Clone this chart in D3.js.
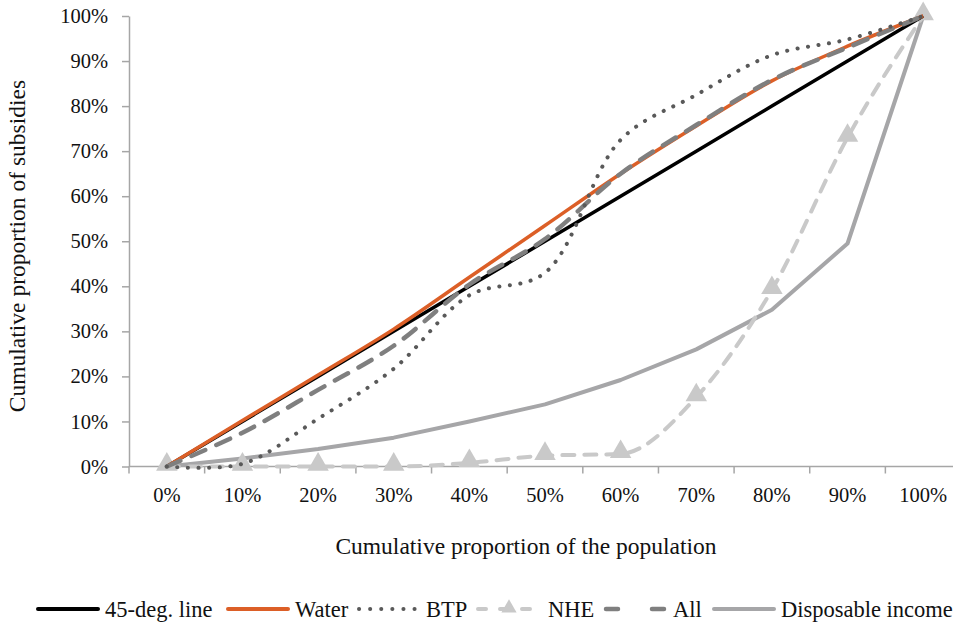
<!DOCTYPE html>
<meta charset="utf-8">
<style>
body { margin: 0; background: #fff; }
svg { font-family: "Liberation Serif", "DejaVu Serif", serif; }
.axis path, .axis line { stroke: #a6a6a6; stroke-width: 1.5px; }
.axis text { font-size: 20.5px; fill: #111; }
.title { font-size: 23.5px; fill: #111; }
.legend text { font-size: 22.5px; fill: #111; }
</style>
<svg width="953" height="628"></svg>
<script src="https://d3js.org/d3.v7.min.js"></script>
<script>

// categories on the x axis
var categories = ["0%", "10%", "20%", "30%", "40%", "50%", "60%", "70%", "80%", "90%", "100%"];

// series values, cumulative proportion of subsidies (%)
var line45 = [0, 10, 20, 30, 40, 50, 60, 70, 80, 90, 100];
var water = [0, 10.2, 20.3, 30.5, 42, 53.5, 65, 75.6, 85.6, 93.3, 100];
var btp = [0, 0.6, 10.6, 21.7, 38, 43, 72.5, 82.5, 91.3, 94.8, 100];
var nhe = [0, 0, 0, 0, 0.8, 2.4, 2.8, 15.4, 39.2, 73, 100];
var all = [0, 7.5, 17, 26.8, 40.4, 50.5, 65, 75.8, 85.8, 93, 100];
var disposable = [0, 1.8, 3.9, 6.4, 10, 13.8, 19.2, 26, 34.8, 49.5, 100];

var yTicks = [0, 10, 20, 30, 40, 50, 60, 70, 80, 90, 100];

var svg = d3.select("svg");

var x = d3.scaleBand().domain(categories).range([129, 961]).padding(0),
    y = d3.scaleLinear().domain([0, 100]).range([466.5, 16]);

function cx(i) { return x(categories[i]) + x.bandwidth() / 2; }

// y axis
svg.append("g")
    .attr("class", "axis")
    .attr("transform", "translate(129,0)")
    .call(d3.axisLeft(y).tickValues(yTicks).tickSize(7).tickSizeOuter(0).tickPadding(14)
      .tickFormat(function(d) { return d + "%"; }))
    .attr("font-family", null)
    .attr("font-size", null);

// x axis, ticks between categories like Excel
var xa = svg.append("g").attr("class", "axis");
xa.append("line")
    .attr("x1", 129).attr("x2", 961)
    .attr("y1", y(0)).attr("y2", y(0));
xa.selectAll(".tk")
    .data(categories.concat(["end"]))
  .enter().append("line")
    .attr("x1", function(d, i) { return 129 + i * x.bandwidth(); })
    .attr("x2", function(d, i) { return 129 + i * x.bandwidth(); })
    .attr("y1", y(0)).attr("y2", y(0) + 7);
xa.selectAll(".lbl")
    .data(categories)
  .enter().append("text")
    .attr("x", function(d, i) { return cx(i); })
    .attr("y", 502)
    .attr("text-anchor", "middle")
    .text(function(d) { return d; });

// axis titles
svg.append("text")
    .attr("class", "title")
    .attr("x", 526).attr("y", 554)
    .attr("text-anchor", "middle")
    .text("Cumulative proportion of the population");

svg.append("text")
    .attr("class", "title")
    .attr("transform", "translate(25,246) rotate(-90)")
    .attr("text-anchor", "middle")
    .text("Cumulative proportion of subsidies");

var smooth = d3.line()
    .curve(d3.curveCatmullRom.alpha(0.5))
    .x(function(d, i) { return cx(i); })
    .y(function(d) { return y(d); });

var mono = d3.line()
    .curve(d3.curveMonotoneX)
    .x(function(d, i) { return cx(i); })
    .y(function(d) { return y(d); });

var straight = d3.line()
    .x(function(d, i) { return cx(i); })
    .y(function(d) { return y(d); });

var series = [
  {name: "Disposable income", values: disposable, gen: straight, stroke: "#a6a6a8", width: 4, dash: null, cap: "round"},
  {name: "NHE", values: nhe, gen: mono, stroke: "#c9c9c9", width: 4, dash: "12 10", cap: "round", marker: true},
  {name: "45-deg. line", values: line45, gen: straight, stroke: "#000", width: 3.5, dash: null, cap: "butt"},
  {name: "Water", values: water, gen: smooth, stroke: "#dc5f27", width: 3.5, dash: null, cap: "butt"},
  {name: "All", values: all, gen: smooth, stroke: "#7f7f7f", width: 4.5, dash: "15 12", cap: "round"},
  {name: "BTP", values: btp, gen: smooth, stroke: "#595959", width: 4, dash: "0.1 10.5", cap: "round"}
];

series.forEach(function(s) {
  svg.append("path")
      .datum(s.values)
      .attr("fill", "none")
      .attr("stroke", s.stroke)
      .attr("stroke-width", s.width)
      .attr("stroke-dasharray", s.dash)
      .attr("stroke-linecap", s.cap)
      .attr("stroke-linejoin", "round")
      .attr("d", s.gen);
  if (s.marker) {
    svg.selectAll(".mk")
        .data(s.values)
      .enter().append("path")
        .attr("transform", function(d, i) { return "translate(" + cx(i) + "," + (y(d) - 2) + ")"; })
        .attr("d", d3.symbol(d3.symbolTriangle, 200))
        .attr("fill", s.stroke);
  }
});

// legend
var legendItems = [
  {name: "45-deg. line", x: 38, stroke: "#000", width: 4, dash: null, cap: "round"},
  {name: "Water", x: 228, stroke: "#dc5f27", width: 4, dash: null, cap: "round"},
  {name: "BTP", x: 359, stroke: "#595959", width: 4, dash: "0.1 11", cap: "round"},
  {name: "NHE", x: 478, stroke: "#c9c9c9", width: 4, dash: "8 14", cap: "round", marker: true},
  {name: "All", x: 606, stroke: "#7f7f7f", width: 4.5, dash: "12 34", cap: "round"},
  {name: "Disposable income", x: 714, stroke: "#a6a6a8", width: 4, dash: null, cap: "round"}
];

var lg = svg.append("g").attr("class", "legend");
legendItems.forEach(function(d) {
  lg.append("line")
      .attr("x1", d.x).attr("x2", d.x + 60)
      .attr("y1", 609).attr("y2", 609)
      .attr("stroke", d.stroke)
      .attr("stroke-width", d.width)
      .attr("stroke-dasharray", d.dash)
      .attr("stroke-linecap", d.cap);
  if (d.marker) {
    lg.append("path")
        .attr("transform", "translate(" + (d.x + 31) + ",608)")
        .attr("d", d3.symbol(d3.symbolTriangle, 100))
        .attr("fill", d.stroke);
  }
  lg.append("text")
      .attr("x", d.x + 67 + (d.marker ? 3 : 0))
      .attr("y", 617)
      .text(d.name);
});

</script>
